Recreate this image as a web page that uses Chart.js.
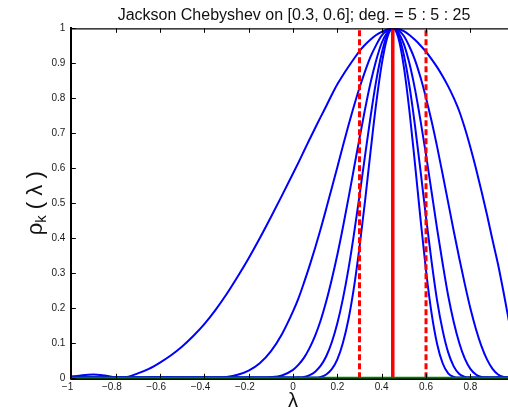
<!DOCTYPE html>
<html>
<head>
<meta charset="utf-8">
<style>
html,body{margin:0;padding:0;overflow:hidden;background:#fff;width:508px;height:410px}
#wrap{position:relative;width:530px;height:410px}
canvas{display:block}
</style>
<script src="https://cdn.jsdelivr.net/npm/chart.js"></script>
</head>
<body>
<div id="wrap"><canvas id="c" width="530" height="410"></canvas></div>
<script>
// ---- data ----
const xs = [-1,-0.95,-0.9,-0.85,-0.8,-0.75,-0.7,-0.65,-0.6,-0.55,-0.5,-0.45,-0.4,-0.35,-0.3,-0.25,-0.2,-0.15,-0.1,-0.05,
  0,0.025,0.05,0.075,0.1,0.125,0.15,0.175,0.2,0.225,0.25,0.275,0.3,0.325,0.35,0.375,0.4,0.425,0.45,
  0.475,0.5,0.525,0.55,0.575,0.6,0.625,0.65,0.675,0.7,0.725,0.75,0.775,0.8,0.825,0.85,0.875,0.9,0.925,0.95,0.975,1];

const deg5 = [0.004,0.009,0.011,0.008,0.003,0.004,0.014,0.027,0.045,0.066,0.091,0.121,0.155,0.195,0.24,0.29,0.343,0.4,0.46,0.522,
  0.585,0.617,0.65,0.683,0.715,0.747,0.778,0.81,0.84,0.866,0.89,0.913,0.935,0.953,0.968,0.981,0.99,0.997,1,
  0.998,0.992,0.981,0.967,0.951,0.933,0.912,0.889,0.863,0.834,0.801,0.763,0.715,0.66,0.6,0.535,0.467,0.395,0.325,0.245,0.16,0.075];

const deg10 = [0.005,0.003,0.002,0.003,0.004,0.003,0.002,0.003,0.004,0.003,0.002,0.002,0.003,0.002,0.004,0.01,0.022,0.043,0.077,0.126,
  0.191,0.229,0.274,0.322,0.373,0.427,0.485,0.544,0.603,0.664,0.722,0.778,0.83,0.877,0.919,0.952,0.979,0.994,1,
  0.994,0.978,0.948,0.91,0.86,0.801,0.735,0.662,0.583,0.502,0.421,0.343,0.269,0.2,0.141,0.092,0.054,0.027,0.011,0.004,0.002,0.003];

const deg15 = [0.003,0.002,0.003,0.002,0.002,0.003,0.002,0.002,0.003,0.002,0.002,0.003,0.002,0.002,0.003,0.002,0.002,0.002,0.003,0.008,
  0.024,0.039,0.059,0.087,0.122,0.166,0.22,0.283,0.353,0.431,0.514,0.6,0.686,0.769,0.845,0.908,0.958,0.988,1,
  0.988,0.955,0.9,0.827,0.737,0.639,0.533,0.427,0.328,0.236,0.161,0.101,0.056,0.027,0.011,0.004,0.002,0.002,0.003,0.002,0.002,0.003];

const deg20 = [0.002,0.003,0.002,0.002,0.003,0.002,0.002,0.003,0.002,0.002,0.003,0.002,0.002,0.003,0.002,0.002,0.003,0.002,0.002,0.003,
  0.002,0.002,0.004,0.009,0.019,0.036,0.063,0.103,0.157,0.227,0.312,0.412,0.522,0.636,0.748,0.849,0.928,0.982,1,
  0.982,0.924,0.836,0.723,0.594,0.46,0.334,0.222,0.137,0.074,0.034,0.012,0.004,0.002,0.002,0.003,0.002,0.002,0.003,0.002,0.002,0.002];

const deg25 = [0.003,0.002,0.002,0.003,0.002,0.002,0.003,0.002,0.002,0.003,0.002,0.002,0.003,0.002,0.002,0.003,0.002,0.002,0.003,0.002,
  0.002,0.003,0.002,0.002,0.002,0.004,0.011,0.026,0.054,0.101,0.168,0.26,0.375,0.507,0.649,0.784,0.896,0.973,1,
  0.973,0.89,0.765,0.614,0.456,0.308,0.186,0.098,0.043,0.014,0.004,0.002,0.002,0.003,0.002,0.002,0.003,0.002,0.002,0.003,0.002,0.002];

const curves = [deg5, deg10, deg15, deg20, deg25];
const intervalEdges = [0.3, 0.6];
const intervalCenter = [0.45];
const baselineX = [-1, 1];
const xTicks = [-1,-0.8,-0.6,-0.4,-0.2,0,0.2,0.4,0.6,0.8,1];
const yTicks = [0,0.1,0.2,0.3,0.4,0.5,0.6,0.7,0.8,0.9,1];
const titleText = 'Jackson Chebyshev on [0.3, 0.6]; deg. = 5 : 5 : 25';
const xLabel = 'λ';
const yLabelParts = ['ρ', 'k', ' ( λ )'];

// ---- chart ----
const FAM = '"Liberation Sans", Arial, Helvetica, sans-serif';

function fmtX(v) {
  const r = Math.round(v * 10) / 10;
  if (r < 0) return '\u2212' + String(Math.abs(r)) + '\u2007\u2009';
  return String(r);
}
function fmtY(v) { return String(Math.round(v * 10) / 10); }

const datasets = [];
curves.forEach(ys => {
  datasets.push({
    data: xs.map((x, i) => ({x: x, y: ys[i]})),
    borderColor: '#0000ff', borderWidth: 2, pointRadius: 0,
    cubicInterpolationMode: 'monotone', fill: false, order: 3
  });
});
intervalEdges.forEach(v => {
  datasets.push({
    data: [{x: v, y: 0}, {x: v, y: 1}],
    borderColor: '#ff0000', borderWidth: 3, borderDash: [6, 3], pointRadius: 0, fill: false, order: 2
  });
});
intervalCenter.forEach(v => {
  datasets.push({
    data: [{x: v, y: 0}, {x: v, y: 1}],
    borderColor: '#ff0000', borderWidth: 3.5, pointRadius: 0, fill: false, order: 1
  });
});
datasets.push({
  data: baselineX.map(x => ({x: x, y: 0})),
  borderColor: '#008000', borderWidth: 3, pointRadius: 0, fill: false, order: 0, clip: false
});

const decor = {
  id: 'decor',
  afterDatasetsDraw(chart) {
    const {ctx, chartArea: a} = chart;
    ctx.save();
    ctx.strokeStyle = '#000';
    ctx.lineWidth = 1.6;
    ctx.beginPath();
    ctx.moveTo(a.left - 1, a.bottom + 0.9); ctx.lineTo(a.right, a.bottom + 0.9);
    ctx.stroke();
    ctx.restore();
  },
  afterDraw(chart) {
    const {ctx, chartArea: a} = chart;
    const sx = chart.scales.x, sy = chart.scales.y;
    ctx.save();
    ctx.strokeStyle = '#000';
    ctx.lineWidth = 1.2;
    ctx.beginPath();
    ctx.moveTo(a.left, a.top + 0.5); ctx.lineTo(a.right, a.top + 0.5);
    ctx.stroke();
    ctx.lineWidth = 1;
    const tl = 4.5;
    ctx.beginPath();
    xTicks.forEach(v => {
      const px = Math.round(sx.getPixelForValue(v)) + 0.5;
      ctx.moveTo(px, a.bottom); ctx.lineTo(px, a.bottom - tl);
      ctx.moveTo(px, a.top); ctx.lineTo(px, a.top + tl);
    });
    yTicks.forEach(v => {
      const py = Math.round(sy.getPixelForValue(v)) + 0.5;
      ctx.moveTo(a.left, py); ctx.lineTo(a.left + tl, py);
      ctx.moveTo(a.right, py); ctx.lineTo(a.right - tl, py);
    });
    ctx.stroke();

    // title
    ctx.fillStyle = '#111';
    ctx.font = '16px ' + FAM;
    ctx.textAlign = 'center';
    ctx.textBaseline = 'alphabetic';
    ctx.fillText(titleText, (a.left + a.right) / 2 + 1, 20);

    // x label
    ctx.font = '20px ' + FAM;
    ctx.fillText(xLabel, (a.left + a.right) / 2, 407);

    // y label (rotated, with subscript)
    const big = '22px ' + FAM, small = '15px ' + FAM;
    ctx.translate(42, (a.top + a.bottom) / 2);
    ctx.rotate(-Math.PI / 2);
    ctx.textAlign = 'left';
    ctx.font = big; const w1 = ctx.measureText(yLabelParts[0]).width; const w3 = ctx.measureText(yLabelParts[2]).width;
    ctx.font = small; const w2 = ctx.measureText(yLabelParts[1]).width;
    let cx = -(w1 + w2 + w3) / 2;
    ctx.font = big; ctx.fillText(yLabelParts[0], cx, 0); cx += w1;
    ctx.font = small; ctx.fillText(yLabelParts[1], cx, 4); cx += w2;
    ctx.font = big; ctx.fillText(yLabelParts[2], cx, 0);
    ctx.restore();
  }
};

new Chart(document.getElementById('c'), {
  type: 'line',
  data: {datasets: datasets},
  options: {
    responsive: false,
    animation: false,
    events: [],
    layout: {padding: {top: 28.3, right: 15.3, left: 0, bottom: 0}},
    plugins: {legend: {display: false}, tooltip: {enabled: false}, title: {display: false}},
    scales: {
      x: {
        type: 'linear', min: -1, max: 1,
        afterBuildTicks: s => { s.ticks = xTicks.map(v => ({value: v})); },
        afterFit: s => { s.height = 31.7; },
        grid: {display: false, drawTicks: false},
        border: {display: false},
        ticks: {padding: 3, autoSkip: false, maxRotation: 0, color: '#1a1a1a',
          font: {family: FAM, size: 10}, callback: v => fmtX(v)}
      },
      y: {
        type: 'linear', min: 0, max: 1,
        afterBuildTicks: s => { s.ticks = yTicks.map(v => ({value: v})); },
        afterFit: s => { s.width = 71.3; },
        grid: {display: false, drawTicks: false},
        border: {display: true, color: '#000', width: 2},
        ticks: {padding: 6, autoSkip: false, color: '#1a1a1a',
          font: {family: FAM, size: 10}, callback: v => fmtY(v)}
      }
    }
  },
  plugins: [decor]
});
</script>
</body>
</html>
